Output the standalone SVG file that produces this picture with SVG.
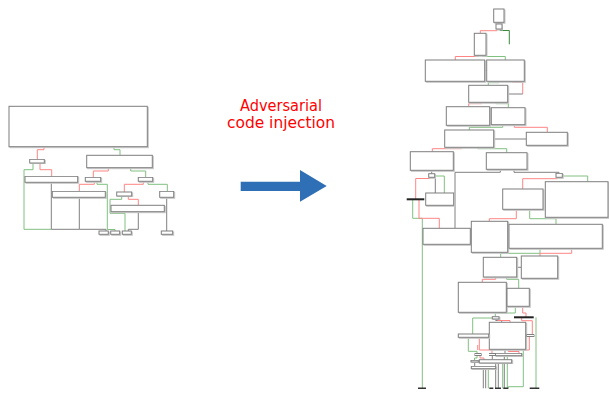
<svg xmlns="http://www.w3.org/2000/svg" width="609" height="393" viewBox="0 0 609 393">
<defs>
<filter id="sh" x="-5%" y="-5%" width="120%" height="130%">
<feOffset in="SourceAlpha" dx="1" dy="1" result="o"/>
<feFlood flood-color="#c8c8c8"/>
<feComposite in2="o" operator="in" result="s"/>
<feMerge><feMergeNode in="s"/><feMergeNode in="SourceGraphic"/></feMerge>
</filter>
<style>
.n rect{fill:#fff;stroke:#7f7f7f;stroke-width:1;filter:url(#sh)}
.bar{stroke:#222;stroke-width:2}
.e path{fill:none;stroke-width:1}
.r{stroke:#ff8585}
.g{stroke:#80c080}
.dg{stroke:#3a8a3a}
.k{stroke:#808080}
.t{font-family:"DejaVu Sans","Liberation Sans",sans-serif;font-size:16px;fill:#ff0000;text-anchor:middle}
</style>
</defs>
<rect width="609" height="393" fill="#fff"/>

<!-- Left graph -->
<g class="e" id="left-edges">
<path class="r" d="M44 146.7V149.7H37.3V159.3"/>
<path class="g" d="M114 146.7V149.7H120V155.3"/>
<path class="r" d="M40 163V169.7H51.7V176.3"/>
<path class="g" d="M33 163V169.7H24V229.3H51.3"/>
<path class="k" d="M51.3 182.3V229.3H79.3"/>
<path class="k" d="M79.3 197.3V229.3H106V231"/>
<path class="r" d="M108.3 167.7V171H93.3V177.3"/>
<path class="g" d="M130.7 167.7V171H145.7V177.3"/>
<path class="r" d="M94.3 181.3V184.3H79.3V191.3"/>
<path class="g" d="M97 181.3V184.3H107.3V229.5H115V231"/>
<path class="r" d="M143.3 181.3V184.3H124.3V192"/>
<path class="g" d="M148 181.3V184.3H167.3V191.3"/>
<path class="g" d="M121.7 196V199.3H110V213.3H125V231"/>
<path class="r" d="M128.3 196V199.3H138.3V205.3"/>
<path class="k" d="M166.7 197.3V231"/>
<path class="k" d="M138.3 211.7V229.3H128.3V231"/>
</g>
<g class="n" id="l0"><rect x="9" y="106.3" width="138.3" height="40.4"/></g>
<g class="n" id="la"><rect x="29.7" y="159.3" width="14.6" height="3.7"/></g>
<g class="n" id="lb"><rect x="86.7" y="155.3" width="65.6" height="12.4"/></g>
<g class="n" id="lc"><rect x="25" y="176.3" width="52.7" height="6"/></g>
<g class="n" id="ld"><rect x="85.3" y="177.3" width="15.4" height="4"/></g>
<g class="n" id="le"><rect x="138.3" y="177.3" width="14.4" height="4"/></g>
<g class="n" id="lf"><rect x="52.3" y="191.3" width="53" height="6"/></g>
<g class="n" id="lg"><rect x="116.7" y="192" width="15" height="4"/></g>
<g class="n" id="lh"><rect x="159.7" y="191.3" width="14" height="6"/></g>
<g class="n" id="li"><rect x="111" y="205.3" width="53.3" height="6.4"/></g>
<g class="n" id="lj1"><rect x="99" y="231" width="9.3" height="3.3"/></g>
<g class="n" id="lj2"><rect x="110.7" y="231" width="9" height="3.3"/></g>
<g class="n" id="lj3"><rect x="122.3" y="231" width="9" height="3.3"/></g>
<g class="n" id="lj4"><rect x="161.3" y="231" width="11.4" height="3.3"/></g>

<!-- Middle -->
<g id="caption">
<text class="t" x="281" y="111" textLength="82" lengthAdjust="spacingAndGlyphs">Adversarial</text>
<text class="t" x="281" y="128.3" textLength="108" lengthAdjust="spacingAndGlyphs">code injection</text>
</g>
<g id="arrow">
<polygon points="240.7,181.7 300,181.7 300,170 326.7,186 300,201.7 300,191 240.7,191" fill="#2f6fb5"/>
</g>

<!-- Right graph -->
<g class="e" id="right-edges">
<path class="k" d="M499 22.3V24"/>
<path class="r" d="M497 29V30.7H480.3V33.3"/>
<path class="dg" d="M500 29V30.5H509.3V44.3"/>
<path class="r" d="M478.3 55.3V56.5H455.3V60"/>
<path class="g" d="M482.3 55.3V56.5H505.3V60"/>
<path class="k" d="M484.7 70.5H486.7"/>
<path class="g" d="M499 81.3V82.7H488.3V85.3"/>
<path class="r" d="M512.7 81.3V82.5H522.7V94"/>
<path class="k" d="M522.7 94H507.7"/>
<path class="r" d="M481.7 102.3V103.7H468.7V106.7"/>
<path class="g" d="M495.7 102.3V103.7H508.3V107.7"/>
<path class="k" d="M489.7 116H491.3"/>
<path class="g" d="M502.7 124.7V127.3H469.3V130"/>
<path class="r" d="M514.3 124.7V127.3H547.3V132.3"/>
<path class="k" d="M493.7 139H526.3"/>
<path class="r" d="M461.7 147.3V148.7H432.3V151.7"/>
<path class="g" d="M477.7 147.3V148.7H506.7V152.7"/>
<path class="k" d="M431.7 170.3V173.7"/>
<path class="r" d="M430 177.3V178.5H415.7V199.3"/>
<path class="g" d="M434.7 176H444.3V193"/>
<path class="k" d="M435.3 177.3V193"/>
<path class="g" d="M412.7 199.3V218.3H422.3V388.3"/>
<path class="r" d="M419 199.3V218.3H439.3V228.3"/>
<path class="k" d="M500.3 169.3V172.3H455V228.3"/>
<path class="k" d="M514 169.3V172.3H559V173.3"/>
<path class="r" d="M557.3 177.3V178.7H522.7V189"/>
<path class="g" d="M562.3 176H587.7V181.7"/>
<path class="r" d="M516.3 209.3V218.7H489.3V221.3"/>
<path class="g" d="M529.7 209.3V218.7H556V224.3"/>
<path class="k" d="M507.7 236.7H509"/>
<path class="g" d="M540 248.3V253.3H500.7V257.3"/>
<path class="r" d="M571.7 248.3V253.3H540V256"/>
<path class="k" d="M516.7 267.3H521.3"/>
<path class="r" d="M495.7 277V279.3H482.3V282.3"/>
<path class="g" d="M506.7 277V279.3H518.7V288.3"/>
<path class="g" d="M515.3 306.3V313H495.3V316.7"/>
<path class="r" d="M522.7 306.3V313H526V317.3"/>
<path class="g" d="M492.3 318H472.7V334"/>
<path class="k" d="M495.7 319V320.5H501.7V322.3"/>
<path class="r" d="M497.7 319V320.5H510V322.3"/>
<path class="r" d="M521.7 317.3V320.7H532.3V334.5"/>
<path class="g" d="M536 317.3V388.3"/>
<path class="g" d="M468.3 337.3V351.3H477V353.5"/>
<path class="r" d="M479.3 337.3V350H492V353.5"/>
<path class="r" d="M477.7 345V350"/>
<path class="k" d="M505 349.3V353.3"/>
<path class="r" d="M508.3 349.3V351.5H519V353.3"/>
<path class="r" d="M529.3 336.7V350H523.3"/>
<path class="g" d="M523.3 349.3V386.7H508.3V388.3"/>
<path class="g" d="M477 355.5V358H474.5V360.3"/>
<path class="r" d="M480 355.5V358H484V359.7"/>
<path class="k" d="M492.3 355.5V359.7"/>
<path class="k" d="M504.3 355.7V388.3"/>
<path class="g" d="M507.3 355.7V388.3"/>
<path class="k" d="M474.7 362V366.3"/>
<path class="k" d="M495.7 363V388.3"/>
<path class="k" d="M498.3 363V388.3"/>
<path class="g" d="M502.7 363V388.3"/>
<path class="k" d="M483.3 368.7V388.3"/>
<path class="k" d="M485.7 368.7V388.3"/>
<path class="g" d="M488.3 368.7V388.3"/>
<path class="dg" d="M511.5 359.7V363" style="stroke-width:1.5"/>
</g>
<g class="n" id="t1"><rect x="493.7" y="9" width="10.3" height="13.3"/></g>
<g class="n" id="t2"><rect x="496" y="24" width="6" height="5"/></g>
<g class="n" id="t3"><rect x="474.3" y="33.3" width="11.7" height="22"/></g>
<g class="n" id="l1"><rect x="425.3" y="60" width="59.4" height="21.3"/></g>
<g class="n" id="r1"><rect x="486.7" y="60" width="37.6" height="21.3"/></g>
<g class="n" id="m1"><rect x="468.7" y="85.3" width="39" height="17"/></g>
<g class="n" id="n1"><rect x="446.3" y="106.7" width="43.4" height="18.6"/></g>
<g class="n" id="n2"><rect x="491.3" y="107.7" width="33.7" height="17"/></g>
<g class="n" id="p1"><rect x="444.7" y="130" width="49" height="17.3"/></g>
<g class="n" id="p2"><rect x="526.3" y="132.3" width="41" height="13"/></g>
<g class="n" id="q1"><rect x="410.3" y="151.7" width="43" height="18.6"/></g>
<g class="n" id="q2"><rect x="486.3" y="152.7" width="40.7" height="16.6"/></g>
<g class="n" id="s1"><rect x="428.7" y="173.7" width="6" height="3.6"/></g>
<g class="n" id="s2"><rect x="425.7" y="193" width="28" height="12.3"/></g>
<g id="bar1"><path class="bar" d="M406.7 199.3H424.3"/></g>
<g class="n" id="s3"><rect x="556" y="173.3" width="6.3" height="4"/></g>
<g class="n" id="v1"><rect x="502.7" y="189" width="40.3" height="20.3"/></g>
<g class="n" id="v2"><rect x="545.3" y="181.7" width="62.7" height="35.6"/></g>
<g class="n" id="u1"><rect x="423" y="228.3" width="47.3" height="16"/></g>
<g class="n" id="w1"><rect x="471.3" y="221.3" width="36.4" height="31"/></g>
<g class="n" id="w2"><rect x="509" y="224.3" width="93.3" height="24"/></g>
<g class="n" id="x1"><rect x="483.3" y="257.3" width="33.4" height="19.7"/></g>
<g class="n" id="x2"><rect x="521.3" y="256" width="36.4" height="22.3"/></g>
<g class="n" id="y1"><rect x="458.3" y="282.3" width="48" height="30"/></g>
<g class="n" id="y2"><rect x="507" y="288.3" width="22.3" height="18"/></g>
<g class="n" id="z1"><rect x="492.3" y="316.7" width="6.7" height="2.3"/></g>
<g id="z2"><path class="bar" d="M514 317.3H533.7"/></g>
<g class="n" id="aa"><rect x="489.3" y="322.3" width="36.4" height="27"/></g>
<g class="n" id="ab"><rect x="458.3" y="334" width="30.4" height="3.3"/></g>
<g class="n" id="ac"><rect x="527" y="334.5" width="6.7" height="2"/></g>
<g class="n" id="sa"><rect x="475" y="353.5" width="6" height="2"/></g>
<g class="n" id="sb"><rect x="489.3" y="353.5" width="6" height="2"/></g>
<g class="n" id="ad"><rect x="495.5" y="353.3" width="26.2" height="2.4"/></g>
<g class="n" id="sc"><rect x="471" y="360.3" width="7.3" height="1.7"/></g>
<g class="n" id="ae"><rect x="479.3" y="359.7" width="32.4" height="3.3"/></g>
<g class="n" id="af"><rect x="471.3" y="366.3" width="24.4" height="2.4"/></g>
<g id="ends">
<path class="bar" d="M418 388.3H426M529.7 388.3H539.3M489.3 388.3H493.3M495 388.3H501M503.3 388.3H508.3" style="stroke:#333;stroke-width:1.5"/>
</g>
</svg>
